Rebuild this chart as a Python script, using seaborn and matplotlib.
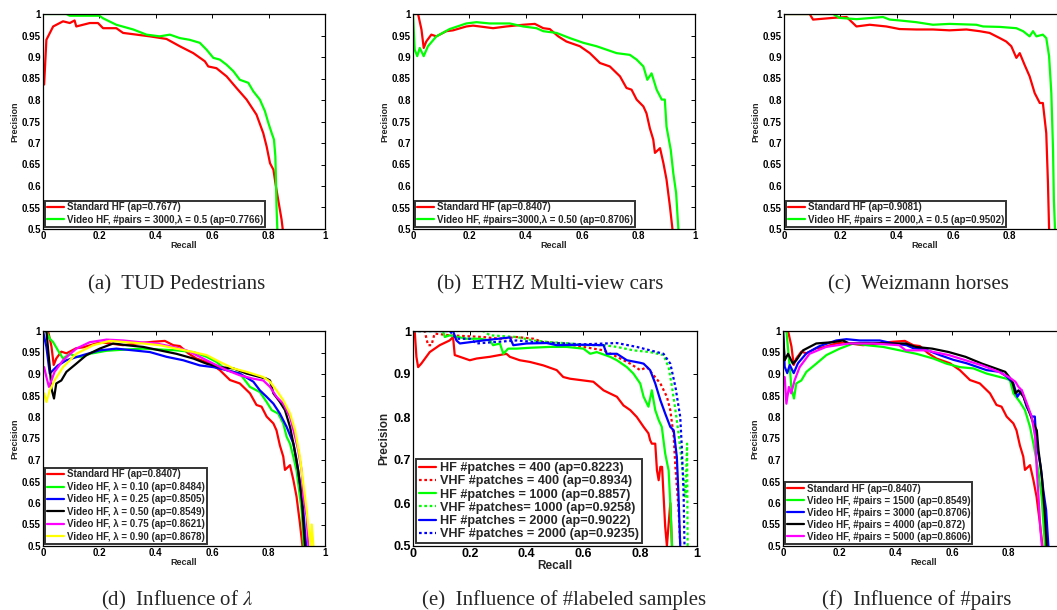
import numpy as np
import pandas as pd
import matplotlib
matplotlib.use("Agg")
import matplotlib.pyplot as plt
import seaborn as sns

# ---- (a) TUD Pedestrians
a_hf_r = [0.004, 0.012, 0.036, 0.071, 0.095, 0.112, 0.118, 0.166, 0.195, 0.213, 0.26, 0.284, 0.32, 0.379,
          0.438, 0.485, 0.533, 0.574, 0.586, 0.615, 0.651, 0.686, 0.722, 0.757, 0.781, 0.793, 0.805, 0.817,
          0.826, 0.834, 0.84, 0.846, 0.85]
a_hf_p = [0.836, 0.94, 0.971, 0.983, 0.979, 0.985, 0.971, 0.979, 0.979, 0.967, 0.967, 0.956, 0.953, 0.948,
          0.942, 0.925, 0.909, 0.89, 0.878, 0.874, 0.855, 0.828, 0.801, 0.766, 0.723, 0.692, 0.653, 0.638,
          0.599, 0.568, 0.545, 0.522, 0.5]
a_vhf_r = [0.0, 0.083, 0.095, 0.2, 0.213, 0.26, 0.32, 0.367, 0.414, 0.45, 0.485, 0.52, 0.556, 0.58, 0.604,
           0.627, 0.651, 0.675, 0.698, 0.728, 0.746, 0.769, 0.787, 0.799, 0.811, 0.819, 0.824, 0.826, 0.828, 0.831]
a_vhf_p = [1.0, 1.0, 0.996, 0.996, 0.99, 0.975, 0.964, 0.952, 0.948, 0.952, 0.944, 0.94, 0.933, 0.917, 0.898,
           0.894, 0.882, 0.867, 0.847, 0.84, 0.82, 0.801, 0.774, 0.747, 0.723, 0.708, 0.669, 0.615, 0.553, 0.5]

# ---- Standard HF on ETHZ cars (used in b, d, f)
hf_r = [0.006, 0.018, 0.03, 0.038, 0.047, 0.065, 0.083, 0.118, 0.142, 0.189, 0.213, 0.249, 0.284, 0.331, 0.391,
        0.432, 0.462, 0.485, 0.515, 0.544, 0.592, 0.627, 0.663, 0.698, 0.734, 0.757, 0.775, 0.793, 0.817, 0.828,
        0.84, 0.852, 0.858, 0.876, 0.888, 0.899, 0.911, 0.92]
hf_p = [1.0, 1.0, 0.964, 0.921, 0.936, 0.952, 0.948, 0.96, 0.962, 0.971, 0.973, 0.97, 0.967, 0.971, 0.975,
        0.977, 0.967, 0.965, 0.948, 0.936, 0.925, 0.909, 0.886, 0.878, 0.855, 0.828, 0.824, 0.801, 0.785, 0.769,
        0.734, 0.708, 0.677, 0.688, 0.653, 0.615, 0.553, 0.5]

# ---- Video HF, #pairs=3000, lambda=0.50 (b, f)
p3000_r = [0.0, 0.006, 0.015, 0.024, 0.038, 0.053, 0.083, 0.13, 0.189, 0.225, 0.272, 0.343, 0.391, 0.438, 0.462,
           0.509, 0.556, 0.604, 0.651, 0.722, 0.769, 0.793, 0.817, 0.831, 0.846, 0.864, 0.882, 0.893, 0.899,
           0.914, 0.923, 0.933, 0.941]
p3000_p = [1.0, 0.917, 0.902, 0.921, 0.902, 0.925, 0.948, 0.965, 0.978, 0.981, 0.978, 0.978, 0.971, 0.967, 0.96,
           0.956, 0.944, 0.933, 0.925, 0.909, 0.905, 0.894, 0.878, 0.847, 0.862, 0.824, 0.801, 0.801, 0.738,
           0.684, 0.63, 0.584, 0.5]

# ---- (c) Weizmann horses
c_hf_r = [0.0, 0.091, 0.103, 0.174, 0.222, 0.257, 0.304, 0.363, 0.41, 0.469, 0.528, 0.587, 0.647, 0.694, 0.729,
          0.765, 0.788, 0.806, 0.824, 0.836, 0.853, 0.871, 0.889, 0.907, 0.918, 0.93, 0.936, 0.94]
c_hf_p = [1.0, 1.0, 0.987, 0.991, 0.993, 0.971, 0.975, 0.971, 0.965, 0.964, 0.964, 0.962, 0.964, 0.96, 0.956,
          0.944, 0.936, 0.925, 0.898, 0.909, 0.882, 0.855, 0.816, 0.793, 0.793, 0.723, 0.607, 0.5]
c_vhf_r = [0.0, 0.174, 0.197, 0.257, 0.351, 0.375, 0.41, 0.469, 0.528, 0.587, 0.682, 0.706, 0.765, 0.824, 0.848,
           0.871, 0.883, 0.895, 0.918, 0.93, 0.94, 0.948, 0.954, 0.957, 0.961]
c_vhf_p = [1.0, 1.0, 0.991, 0.988, 0.993, 0.987, 0.985, 0.981, 0.975, 0.977, 0.975, 0.971, 0.97, 0.967, 0.96,
           0.948, 0.96, 0.948, 0.952, 0.944, 0.902, 0.816, 0.684, 0.568, 0.5]

# ---- (d) influence of lambda
l010_r = [0.0, 0.012, 0.024, 0.036, 0.053, 0.071, 0.095, 0.118, 0.142, 0.166, 0.225, 0.296, 0.355, 0.414, 0.473,
          0.533, 0.58, 0.615, 0.651, 0.698, 0.734, 0.769, 0.793, 0.811, 0.834, 0.852, 0.864, 0.876, 0.888, 0.899,
          0.917, 0.925]
l010_p = [1.0, 1.0, 0.982, 0.974, 0.955, 0.936, 0.947, 0.94, 0.94, 0.947, 0.954, 0.957, 0.959, 0.957, 0.955,
          0.951, 0.94, 0.928, 0.909, 0.901, 0.87, 0.858, 0.835, 0.816, 0.808, 0.785, 0.754, 0.738, 0.707, 0.676,
          0.584, 0.5]
l025_r = [0.0, 0.012, 0.024, 0.036, 0.053, 0.083, 0.142, 0.201, 0.26, 0.32, 0.379, 0.438, 0.497, 0.556, 0.604,
          0.651, 0.698, 0.746, 0.769, 0.793, 0.817, 0.84, 0.864, 0.888, 0.899, 0.911, 0.923, 0.933]
l025_p = [1.0, 0.963, 0.901, 0.909, 0.92, 0.932, 0.944, 0.955, 0.959, 0.955, 0.951, 0.94, 0.932, 0.92, 0.916,
          0.909, 0.901, 0.882, 0.862, 0.847, 0.831, 0.808, 0.777, 0.738, 0.70, 0.645, 0.584, 0.5]
l050_r = [0.012, 0.024, 0.03, 0.039, 0.047, 0.065, 0.083, 0.118, 0.154, 0.201, 0.249, 0.296, 0.355, 0.414,
          0.473, 0.533, 0.58, 0.627, 0.675, 0.722, 0.769, 0.793, 0.805, 0.817, 0.84, 0.858, 0.876, 0.888,
          0.905, 0.917, 0.929]
l050_p = [1.0, 0.916, 0.866, 0.843, 0.878, 0.885, 0.905, 0.924, 0.944, 0.959, 0.971, 0.967, 0.963, 0.955,
          0.947, 0.936, 0.924, 0.916, 0.913, 0.901, 0.893, 0.889, 0.885, 0.855, 0.835, 0.816, 0.777, 0.738,
          0.676, 0.615, 0.5]
l075_r = [0.004, 0.012, 0.021, 0.03, 0.041, 0.071, 0.118, 0.166, 0.225, 0.284, 0.343, 0.402, 0.462, 0.509, 0.556,
          0.604, 0.651, 0.698, 0.746, 0.781, 0.805, 0.828, 0.852, 0.876, 0.894, 0.905, 0.917, 0.923, 0.935, 0.941]
l075_p = [0.916, 0.893, 0.87, 0.885, 0.905, 0.932, 0.959, 0.974, 0.98, 0.978, 0.974, 0.971, 0.963, 0.955, 0.94,
          0.924, 0.909, 0.897, 0.889, 0.885, 0.87, 0.847, 0.831, 0.8, 0.754, 0.723, 0.676, 0.615, 0.568, 0.5]
l090_r = [0.004, 0.012, 0.024, 0.041, 0.071, 0.118, 0.178, 0.237, 0.296, 0.355, 0.414, 0.473, 0.533, 0.58,
          0.627, 0.675, 0.722, 0.781, 0.805, 0.828, 0.852, 0.876, 0.894, 0.911, 0.923, 0.935, 0.941, 0.949, 0.953, 0.959]
l090_p = [0.855, 0.835, 0.862, 0.885, 0.916, 0.947, 0.967, 0.977, 0.974, 0.971, 0.967, 0.959, 0.951, 0.944,
          0.928, 0.913, 0.905, 0.893, 0.882, 0.862, 0.839, 0.808, 0.769, 0.707, 0.645, 0.584, 0.545, 0.5, 0.55, 0.5]

# ---- (e) influence of #labeled samples
e_hf400_r = [0.006, 0.012, 0.018, 0.029, 0.059, 0.094, 0.129, 0.141, 0.147, 0.165, 0.2, 0.224, 0.271, 0.329,
             0.341, 0.376, 0.412, 0.459, 0.506, 0.529, 0.553, 0.6, 0.635, 0.671, 0.718, 0.741, 0.765, 0.788,
             0.812, 0.829, 0.835, 0.841, 0.853, 0.859, 0.865, 0.871, 0.877, 0.888, 0.894, 0.906, 0.912]
e_hf400_p = [1.0, 0.94, 0.916, 0.924, 0.951, 0.967, 0.978, 0.986, 0.944, 0.94, 0.932, 0.936, 0.94, 0.947,
             0.94, 0.932, 0.928, 0.92, 0.909, 0.893, 0.889, 0.885, 0.882, 0.862, 0.847, 0.827, 0.816, 0.8,
             0.777, 0.762, 0.746, 0.738, 0.738, 0.676, 0.653, 0.684, 0.684, 0.545, 0.5, 0.6, 0.5]
e_vhf400_r = [0.0, 0.041, 0.053, 0.065, 0.076, 0.129, 0.247, 0.306, 0.365, 0.424, 0.459, 0.529, 0.6, 0.671,
              0.718, 0.765, 0.8, 0.824, 0.847, 0.871, 0.894, 0.906, 0.918, 0.924, 0.935, 0.941]
e_vhf400_p = [1.0, 1.0, 0.967, 0.967, 0.994, 0.99, 0.986, 0.982, 0.986, 0.982, 0.974, 0.971, 0.963, 0.955,
              0.94, 0.924, 0.909, 0.916, 0.897, 0.878, 0.847, 0.816, 0.754, 0.684, 0.584, 0.5]
e_hf1000_r = [0.0, 0.106, 0.112, 0.129, 0.188, 0.235, 0.271, 0.282, 0.306, 0.318, 0.335, 0.365, 0.412, 0.482,
              0.541, 0.6, 0.624, 0.647, 0.694, 0.718, 0.753, 0.776, 0.8, 0.812, 0.829, 0.841, 0.853, 0.865,
              0.876, 0.888, 0.9, 0.906, 0.912]
e_hf1000_p = [1.0, 1.0, 0.986, 0.99, 0.982, 0.982, 0.978, 0.967, 0.971, 0.947, 0.959, 0.959, 0.961, 0.963,
              0.963, 0.959, 0.947, 0.951, 0.94, 0.932, 0.916, 0.901, 0.878, 0.847, 0.824, 0.862, 0.816, 0.793,
              0.777, 0.715, 0.676, 0.6, 0.5]
e_vhf1000_r = [0.0, 0.247, 0.271, 0.365, 0.424, 0.482, 0.553, 0.6, 0.671, 0.718, 0.776, 0.835, 0.882, 0.9,
               0.912, 0.924, 0.935, 0.947, 0.959, 0.965, 0.967]
e_vhf1000_p = [1.0, 1.0, 0.99, 0.986, 0.978, 0.974, 0.971, 0.967, 0.967, 0.963, 0.955, 0.951, 0.944, 0.916,
               0.87, 0.816, 0.762, 0.692, 0.615, 0.738, 0.5]
e_hf2000_r = [0.0, 0.141, 0.153, 0.165, 0.247, 0.341, 0.353, 0.4, 0.471, 0.506, 0.6, 0.671, 0.682, 0.718,
              0.753, 0.8, 0.812, 0.835, 0.853, 0.871, 0.888, 0.906, 0.918, 0.929, 0.935, 0.941]
e_hf2000_p = [1.0, 1.0, 0.978, 0.971, 0.978, 0.985, 0.967, 0.971, 0.972, 0.967, 0.968, 0.967, 0.947, 0.947,
              0.932, 0.926, 0.924, 0.909, 0.878, 0.839, 0.808, 0.777, 0.769, 0.707, 0.615, 0.5]
e_vhf2000_r = [0.0, 0.129, 0.153, 0.2, 0.224, 0.282, 0.365, 0.435, 0.529, 0.6, 0.718, 0.788, 0.835, 0.882,
               0.906, 0.924, 0.941, 0.947, 0.953, 0.956]
e_vhf2000_p = [1.0, 1.0, 0.982, 0.982, 0.971, 0.974, 0.978, 0.974, 0.971, 0.969, 0.972, 0.963, 0.955, 0.947,
               0.924, 0.87, 0.8, 0.723, 0.615, 0.5]

# ---- (f) influence of #pairs
p4000_r = [0.0, 0.006, 0.018, 0.035, 0.047, 0.071, 0.118, 0.176, 0.212, 0.235, 0.294, 0.365, 0.435, 0.471,
           0.529, 0.588, 0.647, 0.706, 0.741, 0.788, 0.812, 0.824, 0.835, 0.853, 0.871, 0.888, 0.9, 0.906,
           0.918, 0.929, 0.935]
p4000_p = [1.0, 0.932, 0.947, 0.924, 0.932, 0.955, 0.971, 0.974, 0.978, 0.971, 0.972, 0.971, 0.971, 0.963,
           0.959, 0.951, 0.94, 0.924, 0.916, 0.905, 0.885, 0.855, 0.862, 0.847, 0.816, 0.785, 0.769, 0.723,
           0.661, 0.568, 0.5]
p5000_r = [0.006, 0.012, 0.021, 0.029, 0.041, 0.059, 0.094, 0.153, 0.235, 0.318, 0.412, 0.435, 0.506, 0.588,
           0.647, 0.706, 0.765, 0.8, 0.824, 0.835, 0.847, 0.865, 0.882, 0.894, 0.9, 0.906, 0.912, 0.918]
p5000_p = [0.893, 0.831, 0.87, 0.855, 0.885, 0.916, 0.947, 0.963, 0.971, 0.971, 0.967, 0.955, 0.955, 0.944,
           0.932, 0.92, 0.905, 0.893, 0.882, 0.87, 0.862, 0.831, 0.8, 0.754, 0.676, 0.615, 0.545, 0.5]

recall_ticks = [0, 0.2, 0.4, 0.6, 0.8, 1]
prec_ticks = [0.5, 0.55, 0.6, 0.65, 0.7, 0.75, 0.8, 0.85, 0.9, 0.95, 1]
prec_ticks_e = [0.5, 0.6, 0.7, 0.8, 0.9, 1]

sns.set_theme(style="white")
plt.rcParams["font.family"] = ["Liberation Sans", "DejaVu Sans"]
plt.rcParams["mathtext.fontset"] = "stix"

W, H = 1057, 610
fig = plt.figure(figsize=(W / 100, H / 100), dpi=100)


def make_ax(x0, ytop, w=282, h=215):
    return fig.add_axes([x0 / W, 1 - (ytop + h) / H, w / W, h / H])


def style_ax(ax, yt, fs=7, lfs=6.5, cut=False):
    ax.set_xlim(0, 1)
    ax.set_ylim(0.5, 1)
    ax.set_xticks(recall_ticks)
    xl = [f"{v:g}" for v in recall_ticks]
    if cut:
        # right end of this panel falls outside the page
        xl[-1] = ""
    ax.set_xticklabels(xl, fontweight="bold", fontsize=fs)
    ax.set_yticks(yt)
    ax.set_yticklabels([f"{v:g}" for v in yt], fontweight="bold", fontsize=fs)
    ax.tick_params(direction="in", length=3, width=0.7, top=True, right=True, pad=1.5, colors="black")
    for s in ax.spines.values():
        s.set_color("black")
        s.set_linewidth(0.9)
    ax.set_xlabel("Recall", fontweight="bold", fontsize=lfs, labelpad=0)
    ax.set_ylabel("Precision", fontweight="bold", fontsize=lfs, labelpad=2)


def curve(ax, r, p, color, label, ls="-"):
    df = pd.DataFrame({"Recall": r, "Precision": p})
    sns.lineplot(data=df, x="Recall", y="Precision", ax=ax, color=color, lw=1.6,
                 linestyle=ls, sort=False, estimator=None, label=label)


def legend(ax, fs=7, spacing=0.22, hl=1.7):
    leg = ax.legend(loc="lower left", prop={"weight": "bold", "size": fs},
                    frameon=True, fancybox=False, borderaxespad=0.25, borderpad=0.2,
                    labelspacing=spacing, handlelength=hl, handletextpad=0.3)
    leg.get_frame().set_edgecolor("black")
    leg.get_frame().set_linewidth(1.4)


RED, GREEN, BLUE, BLACK, MAG, YEL = "#ff0000", "#00ff00", "#0000ff", "#000000", "#ff00ff", "#ffff00"
DOT = (0, (1.2, 1.2))

# (a)
ax = make_ax(43, 14)
curve(ax, a_hf_r, a_hf_p, RED, "Standard HF (ap=0.7677)")
curve(ax, a_vhf_r, a_vhf_p, GREEN, "Video HF, #pairs = 3000,λ = 0.5 (ap=0.7766)")
style_ax(ax, prec_ticks)
legend(ax)

# (b)
ax = make_ax(413, 14)
curve(ax, hf_r, hf_p, RED, "Standard HF (ap=0.8407)")
curve(ax, p3000_r, p3000_p, GREEN, "Video HF, #pairs=3000,λ = 0.50 (ap=0.8706)")
style_ax(ax, prec_ticks)
legend(ax)

# (c)
ax = make_ax(784, 14)
curve(ax, c_hf_r, c_hf_p, RED, "Standard HF (ap=0.9081)")
curve(ax, c_vhf_r, c_vhf_p, GREEN, "Video HF, #pairs = 2000,λ = 0.5 (ap=0.9502)")
style_ax(ax, prec_ticks, cut=True)
legend(ax)

# (d)
ax = make_ax(43, 331)
curve(ax, hf_r, hf_p, RED, "Standard HF (ap=0.8407)")
curve(ax, l010_r, l010_p, GREEN, "Video HF, λ = 0.10 (ap=0.8484)")
curve(ax, l025_r, l025_p, BLUE, "Video HF, λ = 0.25 (ap=0.8505)")
curve(ax, l050_r, l050_p, BLACK, "Video HF, λ = 0.50 (ap=0.8549)")
curve(ax, l075_r, l075_p, MAG, "Video HF, λ = 0.75 (ap=0.8621)")
curve(ax, l090_r, l090_p, YEL, "Video HF, λ = 0.90 (ap=0.8678)")
style_ax(ax, prec_ticks)
legend(ax, spacing=0.25)

# (e)
ax = make_ax(413, 331, w=284)
curve(ax, e_hf400_r, e_hf400_p, RED, "HF #patches = 400 (ap=0.8223)")
curve(ax, e_vhf400_r, e_vhf400_p, RED, "VHF #patches = 400 (ap=0.8934)", ls=DOT)
curve(ax, e_hf1000_r, e_hf1000_p, GREEN, "HF #patches = 1000 (ap=0.8857)")
curve(ax, e_vhf1000_r, e_vhf1000_p, GREEN, "VHF #patches= 1000 (ap=0.9258)", ls=DOT)
curve(ax, e_hf2000_r, e_hf2000_p, BLUE, "HF #patches = 2000 (ap=0.9022)")
curve(ax, e_vhf2000_r, e_vhf2000_p, BLUE, "VHF #patches = 2000 (ap=0.9235)", ls=DOT)
style_ax(ax, prec_ticks_e, fs=9, lfs=8.5)
legend(ax, fs=9.1, spacing=0.1, hl=1.4)

# (f)
ax = make_ax(783, 331)
curve(ax, hf_r, hf_p, RED, "Standard HF (ap=0.8407)")
curve(ax, l050_r, l050_p, GREEN, "Video HF, #pairs = 1500 (ap=0.8549)")
curve(ax, p3000_r, p3000_p, BLUE, "Video HF, #pairs = 3000 (ap=0.8706)")
curve(ax, p4000_r, p4000_p, BLACK, "Video HF, #pairs = 4000 (ap=0.872)")
curve(ax, p5000_r, p5000_p, MAG, "Video HF, #pairs = 5000 (ap=0.8606)")
style_ax(ax, prec_ticks, cut=True)
legend(ax, spacing=0.2)

captions = [
    (177, 285, "(a)  TUD Pedestrians"),
    (550, 285, "(b)  ETHZ Multi-view cars"),
    (918, 285, "(c)  Weizmann horses"),
    (177, 600, r"(d)  Influence of $\lambda$"),
    (564, 600, r"(e)  Influence of #labeled samples"),
    (917, 600, r"(f)  Influence of #pairs"),
]
for cx, cy, txt in captions:
    fig.text(cx / W, 1 - cy / H, txt, ha="center", va="center",
             fontsize=15, family=["Liberation Serif", "DejaVu Serif"])

fig.savefig("out.png", dpi=100)
